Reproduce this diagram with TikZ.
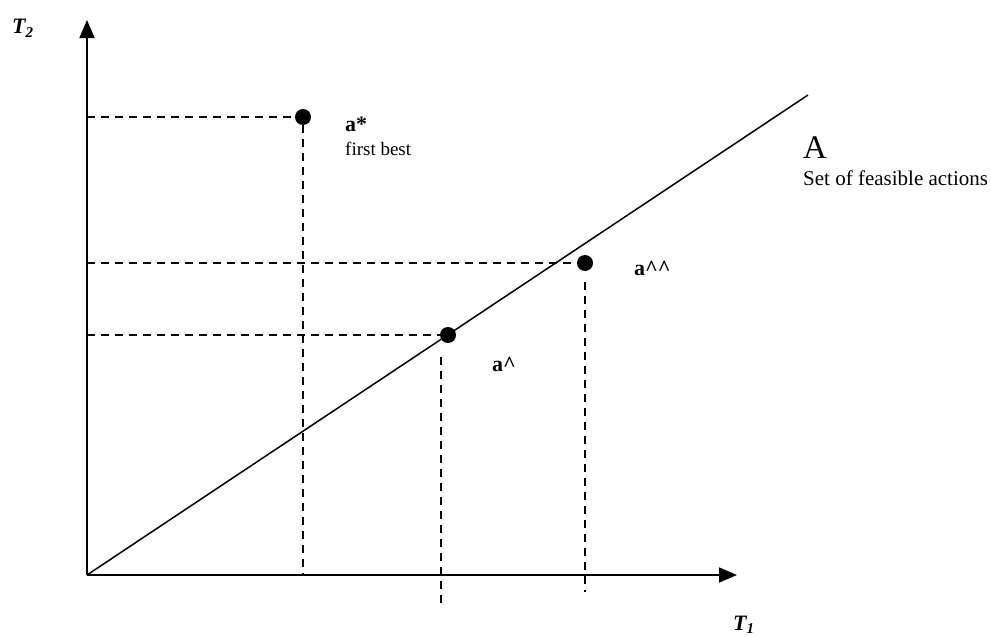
\documentclass[tikz,border=0pt]{standalone}
\usepackage{fontspec}
\setmainfont{Liberation Serif}
\usetikzlibrary{arrows.meta}
\begin{document}
\begin{tikzpicture}[x=1pt,y=-1pt,
  axis/.style={line width=1.8pt,-{Triangle[length=18pt,width=15pt]}},
  guide/.style={line width=1.5pt,dash pattern=on 8pt off 6pt},
  dot/.style={circle,fill=black,inner sep=0pt,minimum size=16pt},
  lbl/.style={anchor=base west,inner sep=0pt}]
\useasboundingbox (0,0) rectangle (991,637);
\coordinate (O) at (87,575);
\coordinate (Ytip) at (87,20);
\coordinate (Xtip) at (737,575);
\coordinate (Aend) at (808,95);
\draw[axis] (O) -- (Ytip);
\draw[axis] (O) -- (Xtip);
\draw[line width=1.5pt] (O) -- (Aend);
% points
\node[dot] (astar) at (303,117) {};
\node[dot] (ahh) at (585,263) {};
\node[dot] (ah) at (448,335) {};
\coordinate (astarY) at (87,117);
\coordinate (astarX) at (303,575);
\coordinate (ahhY) at (87,263);
\coordinate (ahhT) at (585,282);
\coordinate (ahhB) at (585,592);
\coordinate (ahY) at (87,335);
\coordinate (ahT) at (441,357);
\coordinate (ahB) at (441,603);
\draw[guide] (astarY) -- (astar.west);
\draw[guide] (astar.south) -- (astarX);
\draw[guide] (ahhY) -- (ahh.west);
\draw[guide] (ahhT) -- (ahhB);
\draw[guide] (ahY) -- (ah.west);
\draw[guide] (ahT) -- (ahB);
% labels
\node[lbl,font=\fontsize{22}{26}\selectfont\bfseries\itshape] (T2) at (12,34) {T\raisebox{-0.35ex}{\fontsize{15}{18}\selectfont 2}};
\node[lbl,font=\fontsize{22}{26}\selectfont\bfseries\itshape] (T1) at (733,630) {T\raisebox{-0.35ex}{\fontsize{15}{18}\selectfont 1}};
\node[lbl,font=\fontsize{22}{26}\selectfont\bfseries] (lstar) at (345,131) {a*};
\node[lbl,font=\fontsize{19}{22}\selectfont] (lfb) at (345,155) {first best};
\node[lbl,font=\fontsize{33}{38}\selectfont] (lA) at (803,158) {A};
\node[lbl,font=\fontsize{21}{24}\selectfont] (lset) at (803,185) {Set of feasible actions};
\node[lbl,font=\fontsize{22}{26}\selectfont\bfseries] (lahh) at (634,275) {a\textasciicircum\textasciicircum};
\node[lbl,font=\fontsize{22}{26}\selectfont\bfseries] (lah) at (492,371) {a\textasciicircum};
\end{tikzpicture}
\end{document}
